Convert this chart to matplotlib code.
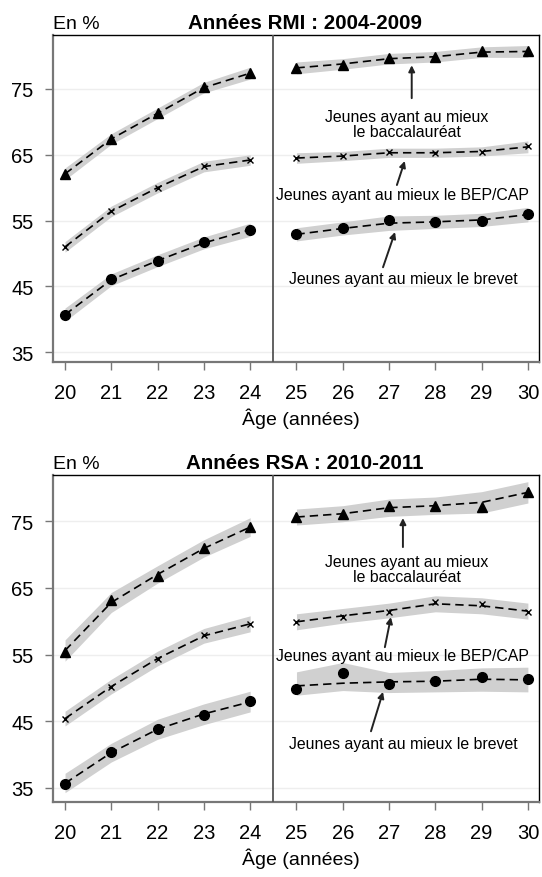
import matplotlib.pyplot as plt
import numpy as np

plt.rcParams['font.family'] = ['Liberation Sans', 'DejaVu Sans']

# Ages (années)
ages = [20, 21, 22, 23, 24, 25, 26, 27, 28, 29, 30]
yticks = [35, 45, 55, 65, 75]

# --- Années RMI : 2004-2009 ---
rmi_bac = [62.1, 67.4, 71.3, 75.3, 77.4, 78.2, 78.7, 79.7, 79.8, 80.8, 80.7]
rmi_bac_fit = [62.1, 67.4, 71.3, 75.2, 77.4, 78.2, 78.8, 79.6, 79.9, 80.6, 80.7]
rmi_bac_hw = [0.9, 0.8, 0.8, 0.8, 0.9, 0.9, 0.8, 0.8, 0.8, 0.8, 0.9]

rmi_cap = [51.0, 56.5, 59.9, 63.3, 64.2, 64.5, 64.8, 65.4, 65.2, 65.4, 66.3]
rmi_cap_fit = [51.0, 56.4, 60.0, 63.2, 64.2, 64.5, 64.8, 65.3, 65.3, 65.5, 66.2]
rmi_cap_hw = [0.8, 0.8, 0.8, 0.8, 0.8, 0.8, 0.7, 0.7, 0.7, 0.7, 0.9]

rmi_brevet = [40.7, 46.1, 48.8, 51.7, 53.6, 52.9, 53.9, 55.1, 54.8, 55.0, 56.0]
rmi_brevet_fit = [40.7, 46.0, 48.9, 51.6, 53.6, 52.9, 53.8, 54.6, 54.8, 55.1, 55.9]
rmi_brevet_hw = [1.0, 0.9, 0.9, 0.9, 1.0, 1.0, 1.0, 1.1, 1.0, 1.0, 1.1]

# --- Années RSA : 2010-2011 ---
rsa_bac = [55.4, 63.1, 66.8, 71.0, 74.1, 75.6, 76.1, 77.3, 77.3, 77.1, 79.3]
rsa_bac_fit = [55.6, 62.8, 67.0, 70.9, 74.1, 75.6, 76.1, 77.0, 77.3, 77.8, 79.3]
rsa_bac_hw = [1.6, 1.5, 1.3, 1.3, 1.4, 1.2, 1.2, 1.3, 1.3, 1.6, 1.6]

rsa_cap = [45.4, 50.2, 54.4, 57.9, 59.6, 59.9, 60.6, 61.4, 62.9, 62.5, 61.4]
rsa_cap_fit = [45.4, 50.2, 54.4, 57.8, 59.6, 59.9, 60.8, 61.6, 62.6, 62.3, 61.5]
rsa_cap_hw = [1.1, 1.1, 1.1, 1.1, 1.2, 1.2, 1.1, 1.1, 1.2, 1.2, 1.2]

rsa_brevet = [35.6, 40.4, 43.9, 46.0, 48.1, 49.8, 52.2, 50.6, 51.0, 51.6, 51.3]
rsa_brevet_fit = [35.7, 40.3, 43.8, 46.1, 47.9, 50.3, 50.7, 50.9, 51.0, 51.3, 51.2]
rsa_brevet_lo = [34.3, 38.9, 42.3, 44.5, 46.4, 48.9, 49.6, 49.3, 49.4, 49.5, 49.4]
rsa_brevet_hi = [37.2, 41.7, 45.3, 47.6, 49.5, 52.4, 53.8, 52.3, 52.6, 53.0, 53.1]

labels = ["Jeunes ayant au mieux\nle baccalauréat",
          "Jeunes ayant au mieux le BEP/CAP",
          "Jeunes ayant au mieux le brevet"]

W, H = 542, 878
fig = plt.figure(figsize=(W / 100, H / 100), dpi=100)

band_col = '#d0d0d0'
markers = [('^', 7.5, 1.0), ('x', 4.5, 1.0), ('o', 7, 1.0)]


def draw_series(ax, pts, fit, lo, hi, mk):
    x = np.array(ages)
    for sl in (slice(0, 5), slice(5, 11)):
        ax.fill_between(x[sl], np.array(lo)[sl], np.array(hi)[sl],
                        color=band_col, lw=0, zorder=1)
        ax.plot(x[sl], np.array(fit)[sl], color='black', lw=1.2,
                dashes=(5, 3), zorder=2)
    ax.plot(x, pts, ls='none', marker=mk[0], ms=mk[1], mew=mk[2],
            color='black', zorder=3)


def make_panel(top_px, bottom_px, ylim, series, title, notes):
    ax = fig.add_axes([53 / W, 1 - bottom_px / H, 486 / W,
                       (bottom_px - top_px) / H])
    for (pts, fit, lo, hi), mk in zip(series, markers):
        draw_series(ax, pts, fit, lo, hi, mk)
    ax.set_xlim(19.74, 30.24)
    ax.set_ylim(*ylim)
    ax.set_xticks(ages)
    ax.set_yticks(yticks)
    for yv in yticks:
        ax.axhline(yv, color='#eeeeee', lw=1, zorder=0)
    ax.axvline(24.5, color='#555555', lw=1.3, zorder=4)
    for s in ('left', 'bottom'):
        ax.spines[s].set_color('#777777')
        ax.spines[s].set_linewidth(1.6)
    for s in ('top', 'right'):
        ax.spines[s].set_color('black')
        ax.spines[s].set_linewidth(1.0)
    ax.tick_params(axis='both', direction='out', length=6, width=1,
                   color='#777777', labelsize=14.5)
    ax.tick_params(axis='x', pad=9)
    ax.tick_params(axis='y', pad=8)

    # annotations
    for lab, (tx, ty), (ax0, ay0), (ax1, ay1) in zip(labels, *notes):
        ax.text(tx, ty, lab, ha='center', va='center', fontsize=11.4,
                linespacing=1.05, zorder=5)
        ax.annotate('', xy=(ax1, ay1), xytext=(ax0, ay0),
                    arrowprops=dict(arrowstyle='-|>', color='#222222',
                                    lw=1.4, mutation_scale=9,
                                    shrinkA=0, shrinkB=0), zorder=5)

    # heading and x label
    fig.text(53 / W, 1 - (top_px - 7) / H, "En %", fontsize=14,
             ha='left', va='baseline')
    fig.text(305 / W, 1 - (top_px - 7) / H, title, fontsize=14.8,
             fontweight='bold', ha='center', va='baseline')
    fig.text(301 / W, 1 - (bottom_px + 56) / H, "Âge (années)",
             fontsize=14, ha='center', va='center')
    return ax


def band(fit, hw):
    return ([f - h for f, h in zip(fit, hw)], [f + h for f, h in zip(fit, hw)])


rmi_series = [
    (rmi_bac, rmi_bac_fit, *band(rmi_bac_fit, rmi_bac_hw)),
    (rmi_cap, rmi_cap_fit, *band(rmi_cap_fit, rmi_cap_hw)),
    (rmi_brevet, rmi_brevet_fit, *band(rmi_brevet_fit, rmi_brevet_hw)),
]
rsa_series = [
    (rsa_bac, rsa_bac_fit, *band(rsa_bac_fit, rsa_bac_hw)),
    (rsa_cap, rsa_cap_fit, *band(rsa_cap_fit, rsa_cap_hw)),
    (rsa_brevet, rsa_brevet_fit, rsa_brevet_lo, rsa_brevet_hi),
]

# text positions, arrow tails, arrow tips (data coords)
rmi_notes = ([(27.39, 69.7), (27.28, 59.0), (27.30, 46.25)],
             [(27.49, 73.6), (27.17, 60.4), (26.87, 47.9)],
             [(27.49, 78.6), (27.34, 64.05), (27.13, 53.25)])
rsa_notes = ([(27.39, 67.8), (27.28, 54.8), (27.30, 41.6)],
             [(27.30, 71.1), (26.91, 56.1), (26.61, 43.5)],
             [(27.30, 75.45), (27.04, 60.6), (26.87, 49.4)])

make_panel(36, 363, (33.5, 83.2), rmi_series,
           "Années RMI : 2004-2009", rmi_notes)
make_panel(476, 803, (32.9, 81.9), rsa_series,
           "Années RSA : 2010-2011", rsa_notes)

fig.savefig('out.png', dpi=100)
